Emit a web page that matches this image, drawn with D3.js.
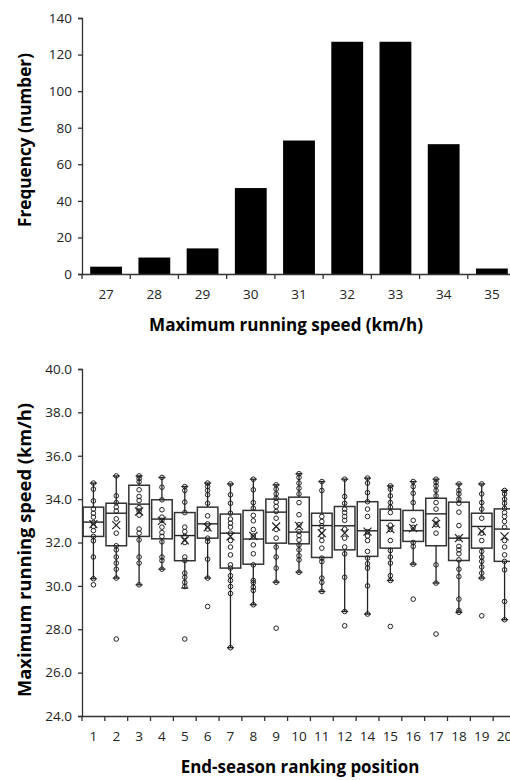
<!DOCTYPE html>
<html>
<head>
<meta charset="utf-8">
<script src="https://cdn.jsdelivr.net/npm/d3@7"></script>
<style>
    body { margin: 0; background: #fff; }
    text { font-family: "Open Sans", sans-serif; fill: #222; }
    .axis path, .axis line { stroke: #333; stroke-width: 1.3; }
    .axis text { font-size: 13.5px; }
    .title { font-size: 16px; font-weight: bold; fill: #000; }
</style>
</head>
<body>
<svg id="chart" width="510" height="780"></svg>
<script>
// histogram of max speed
const speedBins = ['27', '28', '29', '30', '31', '32', '33', '34', '35'];
const frequency = [4, 9, 14, 47, 73, 127, 127, 71, 3];

// box plots per ranking position
const ranks = ['1', '2', '3', '4', '5', '6', '7', '8', '9', '10', '11', '12', '14', '15', '16', '17', '18', '19', '20'];
const whiskerHigh = [34.74, 35.07, 35.07, 35.00, 34.58, 34.74, 34.70, 34.92, 34.66, 35.17, 34.81, 34.92, 34.97, 34.61, 34.81, 34.92, 34.70, 34.70, 34.40];
const quartile3 = [33.63, 33.81, 34.64, 33.97, 33.38, 33.63, 33.31, 33.48, 34.00, 34.09, 33.35, 33.66, 33.88, 33.54, 33.48, 34.04, 33.86, 33.35, 33.55];
const median = [32.94, 33.35, 33.77, 33.08, 32.32, 32.86, 32.43, 32.16, 33.40, 32.48, 32.78, 32.77, 32.54, 33.02, 32.54, 33.32, 32.20, 32.74, 32.62];
const quartile1 = [32.28, 31.85, 32.28, 32.17, 31.16, 32.20, 30.82, 31.00, 31.97, 31.94, 31.31, 31.66, 31.36, 31.74, 32.05, 31.85, 31.17, 31.74, 31.13];
const whiskerLow = [30.33, 30.36, 30.05, 30.77, 29.90, 30.36, 27.15, 29.13, 30.17, 30.63, 29.74, 28.82, 28.70, 30.25, 31.00, 30.13, 28.78, 30.36, 28.44];
const meanSpeed = [32.85, 32.80, 33.43, 33.00, 32.10, 32.70, 32.28, 32.30, 32.74, 32.77, 32.43, 32.43, 32.50, 32.62, 32.66, 32.86, 32.20, 32.51, 32.28];
const playerSpeeds = [
    [34.74, 34.46, 33.92, 33.54, 33.35, 33.17, 32.92, 32.74, 32.55, 32.28, 32.08, 31.33, 30.33, 30.05],
    [35.07, 34.15, 33.84, 33.63, 33.45, 33.09, 32.43, 31.85, 31.66, 31.33, 31.05, 30.77, 30.36, 27.55],
    [35.07, 34.95, 34.80, 34.43, 34.12, 33.94, 33.61, 33.45, 33.26, 32.62, 32.43, 32.12, 31.33, 31.05, 30.05],
    [35.00, 34.55, 33.97, 33.51, 33.17, 33.02, 32.71, 32.46, 32.28, 32.03, 31.33, 31.17, 30.77],
    [34.58, 34.40, 33.86, 33.38, 32.71, 32.50, 32.28, 32.00, 31.33, 31.17, 30.59, 30.40, 30.16, 29.97, 27.55],
    [34.74, 34.58, 34.40, 34.20, 33.81, 33.23, 32.86, 32.62, 32.20, 32.05, 31.23, 30.36, 29.05],
    [34.70, 34.20, 33.81, 33.35, 33.08, 32.89, 32.71, 32.43, 32.09, 31.79, 31.43, 30.97, 30.82, 30.47, 30.25, 29.97, 29.65, 27.15],
    [34.92, 34.43, 33.84, 33.58, 33.25, 33.00, 32.60, 32.30, 31.89, 31.48, 30.97, 30.25, 30.15, 29.94, 29.79, 29.13],
    [34.66, 34.46, 34.24, 34.04, 33.86, 33.66, 33.43, 33.12, 32.60, 32.20, 31.79, 31.33, 30.82, 30.17, 28.05],
    [35.17, 35.00, 34.74, 34.50, 34.24, 33.84, 33.28, 32.82, 32.50, 32.32, 32.12, 31.89, 31.66, 31.39, 31.20, 30.63],
    [34.81, 34.40, 33.20, 32.97, 32.77, 32.56, 32.31, 32.09, 31.74, 31.28, 31.12, 30.36, 30.16, 29.74],
    [34.92, 34.12, 33.81, 33.54, 33.38, 33.20, 33.02, 32.62, 32.20, 31.79, 31.48, 30.40, 28.82, 28.16],
    [34.97, 34.74, 34.30, 33.88, 33.54, 33.20, 32.50, 32.30, 32.09, 31.59, 31.28, 31.02, 30.82, 30.00, 28.70],
    [34.61, 34.46, 34.15, 33.84, 33.63, 33.38, 32.80, 32.60, 32.09, 31.63, 31.33, 31.05, 30.47, 30.25, 28.13],
    [34.81, 34.58, 34.27, 33.84, 33.02, 32.70, 32.00, 31.82, 31.00, 29.39],
    [34.92, 34.77, 34.61, 34.40, 34.15, 33.84, 33.54, 33.05, 32.82, 32.43, 30.97, 30.13, 27.78],
    [34.70, 34.40, 34.24, 34.00, 33.81, 33.40, 32.78, 32.20, 31.82, 31.66, 31.48, 31.20, 30.77, 30.43, 29.39, 28.87, 28.78],
    [34.70, 34.24, 33.84, 33.54, 33.12, 32.43, 32.09, 31.59, 31.33, 31.13, 30.87, 30.59, 30.36, 28.62],
    [34.40, 34.24, 34.00, 33.81, 33.58, 33.38, 33.20, 32.97, 32.71, 32.09, 31.79, 31.43, 31.13, 30.74, 29.28, 28.44]
];

const svg = d3.select('#chart');
const left = 82, right = 516;

// boundary ticks between categories (excel style)
function bandTicks(g, x, y0) {
    const edges = x.domain().map(d => x(d)).concat([x.range()[1]]);
    g.selectAll('line.edge').data(edges).join('line')
        .attr('class', 'edge')
        .attr('x1', d => d).attr('x2', d => d)
        .attr('y1', y0).attr('y2', y0 + 5)
        .attr('stroke', '#333').attr('stroke-width', 1.3);
}

// scale title font so it spans about the same length as in the figure
function title(g, text, x, y, width, rotate) {
    const t = g.append('text').attr('class', 'title')
        .attr('text-anchor', 'middle')
        .attr('transform', `translate(${x},${y})` + (rotate ? ' rotate(-90)' : ''))
        .text(text);
    const len = t.node().getComputedTextLength();
    t.style('font-size', (16 * width / len).toFixed(2) + 'px');
    return t;
}

function drawHistogram() {
    const top = 18, bottom = 274;
    const x = d3.scaleBand().domain(speedBins).range([left, right]);
    const y = d3.scaleLinear().domain([0, 140]).range([bottom, top]);
    const g = svg.append('g');

    g.selectAll('rect').data(speedBins).join('rect')
        .attr('x', d => x(d) + x.bandwidth() * 0.17)
        .attr('width', x.bandwidth() * 0.66)
        .attr('y', (d, i) => y(frequency[i]))
        .attr('height', (d, i) => bottom - y(frequency[i]))
        .attr('fill', '#000');

    g.append('g').attr('class', 'axis')
        .attr('transform', `translate(${left},0)`)
        .call(d3.axisLeft(y).tickValues(d3.range(0, 141, 20)).tickSize(4).tickPadding(6));

    const xa = g.append('g').attr('class', 'axis')
        .attr('transform', `translate(0,${bottom})`)
        .call(d3.axisBottom(x).tickSize(0).tickPadding(15));
    bandTicks(xa, x, 0);

    title(g, 'Frequency (number)', 31, 140, 174, true);
    title(g, 'Maximum running speed (km/h)', 286, 331, 274, false);
}

function drawBoxes() {
    const top = 369, bottom = 716;
    const x = d3.scaleBand().domain(ranks).range([left, right]);
    const y = d3.scaleLinear().domain([24, 40]).range([bottom, top]);
    const bw = x.bandwidth() * 0.9;
    const g = svg.append('g');

    const box = g.selectAll('g.box').data(ranks).join('g')
        .attr('class', 'box')
        .attr('transform', d => `translate(${x(d) + x.bandwidth() / 2},0)`);

    // whiskers
    box.append('line')
        .attr('y1', (d, i) => y(whiskerHigh[i])).attr('y2', (d, i) => y(quartile3[i]));
    box.append('line')
        .attr('y1', (d, i) => y(quartile1[i])).attr('y2', (d, i) => y(whiskerLow[i]));
    box.append('line').attr('x1', -3.5).attr('x2', 3.5)
        .attr('y1', (d, i) => y(whiskerHigh[i])).attr('y2', (d, i) => y(whiskerHigh[i]));
    box.append('line').attr('x1', -3.5).attr('x2', 3.5)
        .attr('y1', (d, i) => y(whiskerLow[i])).attr('y2', (d, i) => y(whiskerLow[i]));
    box.selectAll('line').attr('stroke', '#222').attr('stroke-width', 1.3);

    box.append('rect')
        .attr('x', -bw / 2).attr('width', bw)
        .attr('y', (d, i) => y(quartile3[i]))
        .attr('height', (d, i) => y(quartile1[i]) - y(quartile3[i]))
        .attr('fill', '#fff').attr('stroke', '#333').attr('stroke-width', 1.5);

    box.append('line')
        .attr('x1', -bw / 2).attr('x2', bw / 2)
        .attr('y1', (d, i) => y(median[i])).attr('y2', (d, i) => y(median[i]))
        .attr('stroke', '#222').attr('stroke-width', 1.4);

    box.selectAll('circle').data((d, i) => playerSpeeds[i]).join('circle')
        .attr('cy', v => y(v)).attr('r', 2.3)
        .attr('fill', 'none').attr('stroke', '#222').attr('stroke-width', 1);

    // mean marker
    box.append('path')
        .attr('d', (d, i) => {
            const m = y(meanSpeed[i]);
            return `M-4,${m - 4}L4,${m + 4}M-4,${m + 4}L4,${m - 4}`;
        })
        .attr('stroke', '#222').attr('stroke-width', 1.2);

    g.append('g').attr('class', 'axis')
        .attr('transform', `translate(${left},0)`)
        .call(d3.axisLeft(y).tickValues(d3.range(24, 41, 2)).tickFormat(d3.format('.1f')).tickSize(4).tickPadding(6));

    const xa = g.append('g').attr('class', 'axis')
        .attr('transform', `translate(0,${bottom})`)
        .call(d3.axisBottom(x).tickSize(0).tickPadding(15));
    bandTicks(xa, x, 0);

    title(g, 'Maximum running speed (km/h)', 31, 550, 294, true);
    title(g, 'End-season ranking position', 300, 773, 239, false);
}

drawHistogram();
drawBoxes();
</script>
</body>
</html>
